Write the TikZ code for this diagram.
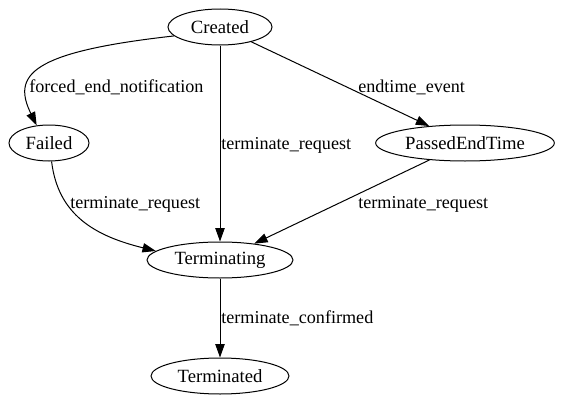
\documentclass[tikz,border=0pt]{standalone}
\usepackage{fontspec}
\setmainfont{Liberation Serif}
\usetikzlibrary{shapes.geometric,arrows.meta}
\begin{document}
\begin{tikzpicture}[x=0.75pt,y=-0.75pt,
    every node/.style={font=\fontsize{14}{16}\selectfont},
    state/.style={draw,ellipse,line width=0.75pt,inner sep=0pt,minimum height=27pt},
    lbl/.style={anchor=base west,inner sep=0pt,font=\fontsize{13.6}{16}\selectfont}]
  \useasboundingbox (0,0) rectangle (561,407);
  \draw
    (220,27) node[state,minimum width=78pt] (created){Created}
    (49,143) node[state,minimum width=60pt] (failed){Failed}
    (465,143) node[state,minimum width=134pt] (passed){PassedEndTime}
    (220,260) node[state,minimum width=109.5pt] (terminating){Terminating}
    (220,376) node[state,minimum width=103.5pt] (terminated){Terminated};
  \path
    (29,92) node[lbl] (l_forced){forced\_end\_notification}
    (358,92) node[lbl] (l_endtime){endtime\_event}
    (221,149) node[lbl] (l_req_mid){terminate\_request}
    (70,208) node[lbl] (l_req_left){terminate\_request}
    (358,208) node[lbl] (l_req_right){terminate\_request}
    (221,323) node[lbl] (l_confirmed){terminate\_confirmed};
  \begin{scope}[-{Triangle[length=10pt,width=7pt]},line width=0.75pt]
    \draw (created.191) .. controls (30,52) and (12,75) .. (failed.125);
    \draw (created) to (terminating);
    \draw (created) to (passed);
    \draw (failed.-82) .. controls (58,215) and (95,236) .. (terminating.172);
    \draw (passed) to (terminating);
    \draw (terminating) to (terminated);
  \end{scope}
\end{tikzpicture}
\end{document}
